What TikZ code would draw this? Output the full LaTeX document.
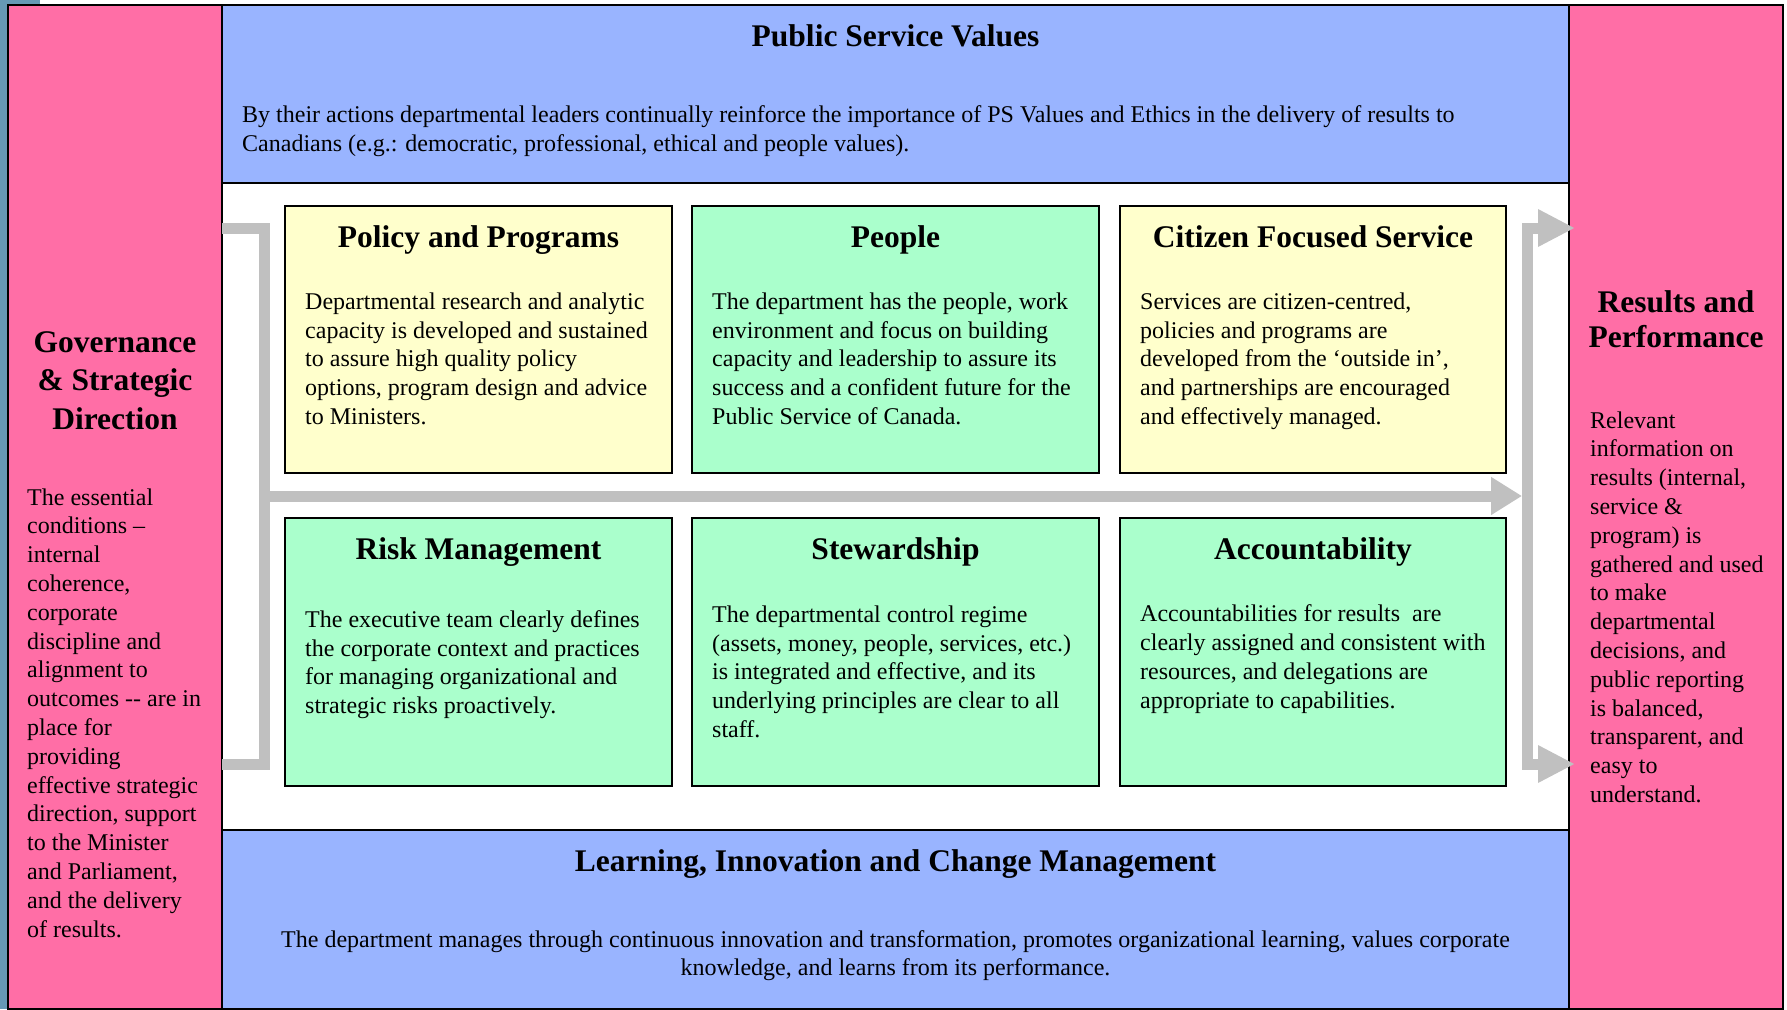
\documentclass[tikz,border=0pt]{standalone}
\usepackage{fontspec}
\setmainfont{Liberation Serif}
\usetikzlibrary{arrows.meta,calc}

\definecolor{colpink}{HTML}{FF6EA6}
\definecolor{bandblue}{HTML}{99B4FF}
\definecolor{cardyellow}{HTML}{FFFFCC}
\definecolor{cardgreen}{HTML}{AAFFCC}
\definecolor{flowgray}{HTML}{C0C0C0}
\definecolor{edgeblue}{HTML}{6699B5}

\begin{document}
% Multi-line nodes are placed by the baseline of their last line.
\begin{tikzpicture}[x=1pt,y=-1pt,
  panel/.style={draw=black, line width=2pt, inner sep=0pt, outer sep=0pt, anchor=north west},
  card/.style={panel},
  bodytext/.style={font=\fontsize{24}{28.8}\selectfont, align=left, inner sep=0pt, anchor=base west},
  centretext/.style={font=\fontsize{24}{28.8}\selectfont, align=center, inner sep=0pt, anchor=base},
  heading/.style={font=\fontsize{31.5}{38}\selectfont\bfseries, align=center, inner sep=0pt, anchor=base},
  flowline/.style={draw=flowgray, line width=11pt, line join=miter, line cap=butt},
  flowarrow/.style={flowline, -{Triangle[length=37pt,width=35pt]}},
  midarrow/.style={flowline, -{Triangle[length=31pt,width=36pt]}}]

\useasboundingbox (0,0) rectangle (1787,1009);
\fill[white] (0,0) rectangle (1787,1009);
\fill[edgeblue] (0,0) rectangle (7.5,1009);
\fill[edgeblue] (0,0) rectangle (40,4);

% side columns and horizontal bands
\node[panel, fill=colpink, minimum width=214pt, minimum height=1004pt] (gov) at (8,4.5) {};
\node[panel, fill=colpink, minimum width=214pt, minimum height=1004pt] (res) at (1569,4.5) {};
\node[panel, fill=bandblue, minimum width=1347pt, minimum height=178.5pt] (psv) at (222,4.5) {};
\node[panel, fill=bandblue, minimum width=1347pt, minimum height=178.5pt] (lic) at (222,830) {};

% six cards
\node[card, fill=cardyellow, minimum width=387pt, minimum height=267pt] (pp) at (285,206) {};
\node[card, fill=cardgreen,  minimum width=407pt, minimum height=267pt] (pe) at (692,206) {};
\node[card, fill=cardyellow, minimum width=386pt, minimum height=267pt] (cf) at (1120,206) {};
\node[card, fill=cardgreen,  minimum width=387pt, minimum height=268pt] (rm) at (285,518) {};
\node[card, fill=cardgreen,  minimum width=407pt, minimum height=268pt] (st) at (692,518) {};
\node[card, fill=cardgreen,  minimum width=386pt, minimum height=268pt] (ac) at (1120,518) {};

% flow connectors
\coordinate (bt) at (264,228);
\coordinate (bb) at (264,764);
\coordinate (bm) at (264,496);
\coordinate (rm-bar) at (1527.5,496);
\coordinate (ra) at (1522,496);
\coordinate (rtop) at (1575,228);
\coordinate (rbot) at (1575,764);

\draw[flowline] (gov.east |- bt) -- (bt) -- (bb) -- (gov.east |- bb);
\draw[midarrow] (bm) -- (ra);
\draw[flowarrow] (rm-bar) |- (rtop);
\draw[flowarrow] (rm-bar) |- (rbot);

% outer frame
\draw[line width=2pt] (gov.north west) rectangle (res.south east);

% band texts
\node[heading] (psv-t) at ($(psv.north)+(0,42)$) {Public Service Values};
\node[bodytext] (psv-b) at ($(psv.north west)+(20,146.6)$)
  {By their actions departmental leaders continually reinforce the importance of PS Values and Ethics in the delivery of results to\\
   Canadians (e.g.: democratic, professional, ethical and people values).};

\node[heading] (lic-t) at ($(lic.north)+(0,41)$) {Learning, Innovation and Change Management};
\node[centretext] (lic-b) at ($(lic.north)+(0,145.8)$)
  {The department manages through continuous innovation and transformation, promotes organizational learning, values corporate\\
   knowledge, and learns from its performance.};

% column texts
\node[heading, font=\fontsize{31.5}{38.5}\selectfont\bfseries] (gov-t) at ($(gov.north)+(0,424.5)$)
  {Governance\\ \&\ Strategic\\ Direction};
\node[bodytext] (gov-b) at ($(gov.north west)+(19,932.5)$)
  {The essential\\ conditions –\\ internal\\ coherence,\\ corporate\\ discipline and\\ alignment to\\
   outcomes -{}- are in\\ place for\\ providing\\ effective strategic\\ direction, support\\
   to the Minister\\ and Parliament,\\ and the delivery\\ of results.};

\node[heading, font=\fontsize{31.5}{35}\selectfont\bfseries] (res-t) at ($(res.north)+(0,343)$)
  {Results and\\ Performance};
\node[bodytext] (res-b) at ($(res.north west)+(21,797.9)$)
  {Relevant\\ information on\\ results (internal,\\ service \&\\ program) is\\ gathered and used\\
   to make\\ departmental\\ decisions, and\\ public reporting\\ is balanced,\\ transparent, and\\
   easy to\\ understand.};

% card texts
\node[heading] (pp-t) at ($(pp.north)+(0,41)$) {Policy and Programs};
\node[bodytext] (pp-b) at ($(pp.north west)+(20,218.4)$)
  {Departmental research and analytic\\ capacity is developed and sustained\\ to assure high quality policy\\
   options, program design and advice\\ to Ministers.};

\node[heading] (pe-t) at ($(pe.north)+(0,41)$) {People};
\node[bodytext] (pe-b) at ($(pe.north west)+(20,218.4)$)
  {The department has the people, work\\ environment and focus on building\\ capacity and leadership to assure its\\
   success and a confident future for the\\ Public Service of Canada.};

\node[heading] (cf-t) at ($(cf.north)+(0,41)$) {Citizen Focused Service};
\node[bodytext] (cf-b) at ($(cf.north west)+(20,218.4)$)
  {Services are citizen-centred,\\ policies and programs are\\ developed from the ‘outside in’,\\
   and partnerships are encouraged\\ and effectively managed.};

\node[heading] (rm-t) at ($(rm.north)+(0,41.3)$) {Risk Management};
\node[bodytext] (rm-b) at ($(rm.north west)+(20,195.7)$)
  {The executive team clearly defines\\ the corporate context and practices\\ for managing organizational and\\
   strategic risks proactively.};

\node[heading] (st-t) at ($(st.north)+(0,41.3)$) {Stewardship};
\node[bodytext] (st-b) at ($(st.north west)+(20,219.5)$)
  {The departmental control regime\\ (assets, money, people, services, etc.)\\ is integrated and effective, and its\\
   underlying principles are clear to all\\ staff.};

\node[heading] (ac-t) at ($(ac.north)+(0,41.3)$) {Accountability};
\node[bodytext] (ac-b) at ($(ac.north west)+(20,190.2)$)
  {Accountabilities for results\ \ are\\ clearly assigned and consistent with\\ resources, and delegations are\\
   appropriate to capabilities.};

\end{tikzpicture}
\end{document}
